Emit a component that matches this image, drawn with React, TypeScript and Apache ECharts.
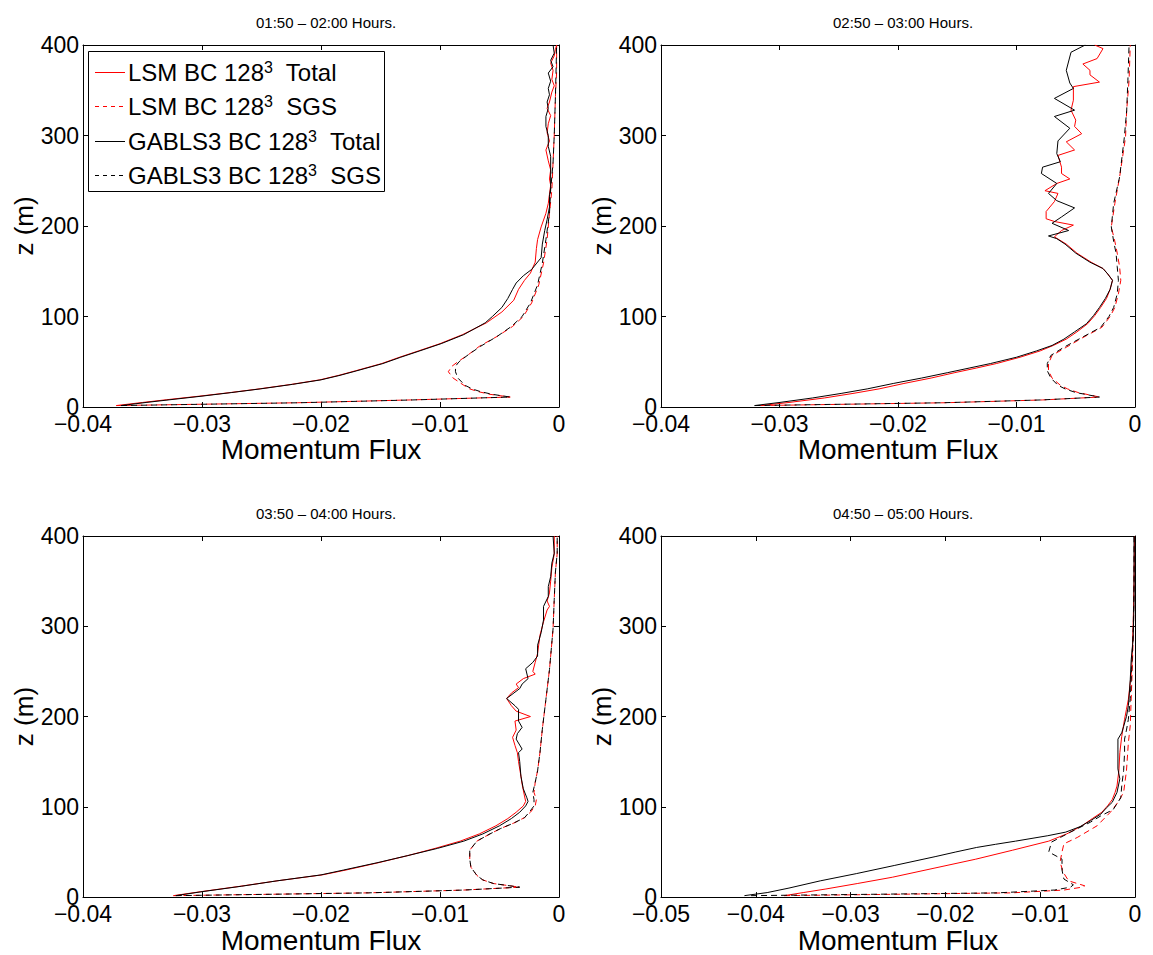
import React, { useEffect, useRef } from "react";
import * as echarts from "echarts";

// ---------- DATA ----------
const PANEL_TITLES = [
  "01:50 – 02:00 Hours.",
  "02:50 – 03:00 Hours.",
  "03:50 – 04:00 Hours.",
  "04:50 – 05:00 Hours.",
];
const X_MIN = [-0.04, -0.04, -0.04, -0.05];
const X_INTERVAL = 0.01;
const Z_MIN = 0;
const Z_MAX = 400;
const Z_INTERVAL = 100;

const SERIES_NAMES = [
  "LSM BC 128^3 Total",
  "LSM BC 128^3 SGS",
  "GABLS3 BC 128^3 Total",
  "GABLS3 BC 128^3 SGS",
];

// each entry: [z (m), momentum flux]
// Panel 1 : 01:50 - 02:00
const P1_LSM_TOTAL = [
  [1.6, -0.0372], [5, -0.035], [8, -0.033], [12, -0.0302], [16, -0.0276], [20, -0.0252],
  [25, -0.0225], [30, -0.0201], [35, -0.0185], [40, -0.0171], [48, -0.0149], [55, -0.0134],
  [62, -0.0118], [70, -0.01], [80, -0.0081], [93, -0.0061], [105, -0.0048], [118, -0.0038],
  [130, -0.0034], [140, -0.0029], [148, -0.0024], [160, -0.002], [175, -0.0019], [185, -0.0018],
  [199, -0.0015], [214, -0.0011], [225, -0.0009], [235, -0.0008], [245, -0.0007], [252, -0.0008],
  [262, -0.0007], [272, -0.0009], [284, -0.0011], [294, -0.0008], [303, -0.001], [313, -0.0009],
  [322, -0.0007], [330, -0.001], [337, -0.0008], [348, -0.0006], [355, -0.0004], [362, -0.0006],
  [372, -0.0005], [380, -0.0007], [388, -0.0004], [395, -0.0003], [400, -0.0002],
];
const P1_LSM_SGS = [
  [1.6, -0.0372], [4.7, -0.022], [7.8, -0.0125], [11, -0.0041], [14, -0.0058], [17, -0.0068],
  [20, -0.0075], [24, -0.008], [32, -0.0089], [39, -0.0093], [45, -0.009], [50, -0.0085],
  [58, -0.0076], [67, -0.0067], [78, -0.0052], [89, -0.0039], [100, -0.003], [115, -0.0023],
  [135, -0.0017], [159, -0.0013], [185, -0.001], [214, -0.0008], [240, -0.0006], [270, -0.0005],
  [300, -0.0004], [343, -0.0003], [370, -0.0002], [400, -0.0002],
];
const P1_GABLS_TOTAL = [
  [1.6, -0.0368], [5, -0.0347], [8, -0.0327], [12, -0.03], [16, -0.0275], [20, -0.0251],
  [25, -0.0224], [30, -0.02], [35, -0.0184], [40, -0.017], [48, -0.0148], [55, -0.0133],
  [62, -0.0117], [70, -0.0099], [80, -0.008], [93, -0.0062], [100, -0.0056], [110, -0.0048],
  [120, -0.0043], [130, -0.0039], [137, -0.0036], [145, -0.003], [152, -0.0023], [165, -0.0015],
  [180, -0.0014], [195, -0.0012], [207, -0.001], [221, -0.0008], [233, -0.0008], [242, -0.0007],
  [252, -0.0007], [262, -0.0007], [277, -0.0007], [288, -0.0009], [300, -0.0009], [310, -0.0011],
  [321, -0.0011], [330, -0.0009], [337, -0.001], [345, -0.0008], [352, -0.0009], [360, -0.0007],
  [369, -0.0009], [376, -0.0005], [383, -0.0007], [391, -0.0004], [400, -0.0005],
];
const P1_GABLS_SGS = [
  [1.6, -0.0368], [4.7, -0.0218], [7.8, -0.0123], [11, -0.0041], [14, -0.0056], [17, -0.0066],
  [20, -0.0073], [24, -0.0079], [32, -0.0085], [39, -0.0087], [45, -0.0087], [50, -0.0084],
  [58, -0.0076], [67, -0.0066], [78, -0.0052], [89, -0.004], [100, -0.0031], [115, -0.0024],
  [135, -0.0018], [159, -0.0014], [185, -0.0011], [214, -0.0008], [240, -0.0007], [270, -0.0005],
  [300, -0.0004], [343, -0.0003], [370, -0.00025], [400, -0.0002],
];

// Panel 2 : 02:50 - 03:00
const P2_LSM_TOTAL = [
  [1.6, -0.0316], [5, -0.0292], [10, -0.0262], [15, -0.0238], [20, -0.0216], [26, -0.0195],
  [32, -0.0172], [38, -0.0152], [43, -0.0134], [48, -0.0117], [55, -0.0097], [62, -0.008],
  [68, -0.0069], [75, -0.0058], [83, -0.0049], [92, -0.004], [101, -0.0034], [110, -0.0029],
  [120, -0.0024], [130, -0.0021], [140, -0.0019], [147, -0.0023], [153, -0.0027], [160, -0.0037],
  [170, -0.0049], [180, -0.0058], [188, -0.0068], [195, -0.0062], [201, -0.0052], [205, -0.0068],
  [208, -0.0075], [216, -0.0075], [227, -0.0068], [236, -0.0065], [239, -0.0076], [247, -0.0066],
  [252, -0.0055], [258, -0.0062], [265, -0.0062], [278, -0.0065], [284, -0.0051], [293, -0.0058],
  [302, -0.0045], [310, -0.0051], [317, -0.005], [328, -0.0054], [339, -0.0052], [354, -0.0052],
  [359, -0.003], [367, -0.0038], [372, -0.0038], [379, -0.0044], [385, -0.0032], [396, -0.0027],
  [400, -0.0034],
];
const P2_LSM_SGS = [
  [1.6, -0.0316], [4.7, -0.016], [7.8, -0.0078], [11, -0.003], [16, -0.0048], [20, -0.0057],
  [24, -0.0063], [32, -0.007], [40, -0.0073], [48, -0.0073], [57, -0.007], [66, -0.0058],
  [76, -0.0045], [88, -0.0028], [100, -0.0021], [110, -0.0017], [125, -0.0014], [140, -0.0012],
  [155, -0.0013], [170, -0.0015], [183, -0.0017], [199, -0.002], [225, -0.0017], [254, -0.0013],
  [298, -0.0008], [328, -0.0007], [361, -0.0005], [400, -0.0004],
];
const P2_GABLS_TOTAL = [
  [1.6, -0.0321], [5, -0.03], [10, -0.0272], [15, -0.0248], [20, -0.0226], [26, -0.0204],
  [32, -0.018], [38, -0.0158], [43, -0.014], [48, -0.0122], [55, -0.01], [62, -0.0083],
  [68, -0.007], [75, -0.006], [83, -0.0051], [92, -0.0041], [101, -0.0035], [110, -0.003],
  [120, -0.0025], [130, -0.0021], [140, -0.0019], [147, -0.0023], [153, -0.0027], [160, -0.0038],
  [170, -0.005], [180, -0.0059], [186, -0.0066], [189, -0.0073], [195, -0.0056], [203, -0.007],
  [210, -0.0062], [220, -0.0051], [228, -0.0066], [236, -0.0073], [247, -0.0066], [258, -0.0079],
  [265, -0.0078], [271, -0.0063], [280, -0.0066], [294, -0.0065], [308, -0.0055], [321, -0.0068],
  [328, -0.0051], [341, -0.0068], [352, -0.0052], [358, -0.0055], [372, -0.0058], [392, -0.0054],
  [400, -0.0042],
];
const P2_GABLS_SGS = [
  [1.6, -0.0321], [4.7, -0.0162], [7.8, -0.0079], [11, -0.003], [16, -0.005], [20, -0.0059],
  [24, -0.0065], [32, -0.0071], [40, -0.0074], [48, -0.0074], [57, -0.0071], [66, -0.006],
  [76, -0.0046], [88, -0.0029], [100, -0.0022], [110, -0.0018], [125, -0.0015], [140, -0.0014],
  [155, -0.0015], [170, -0.0016], [183, -0.0018], [199, -0.002], [225, -0.0018], [254, -0.0013],
  [298, -0.0009], [328, -0.0007], [361, -0.0006], [400, -0.0005],
];

// Panel 3 : 03:50 - 04:00
const P3_LSM_TOTAL = [
  [1.6, -0.0324], [6, -0.0301], [12, -0.0268], [18, -0.0237], [24.6, -0.0199], [30, -0.0179],
  [38, -0.0152], [46, -0.0127], [54, -0.0104], [62, -0.0083], [70, -0.0067], [79, -0.0053],
  [87, -0.0043], [94, -0.0036], [101, -0.003], [106, -0.0028], [112, -0.0029], [125, -0.0031],
  [134, -0.0032], [150, -0.0034], [160, -0.0035], [168, -0.0037], [177, -0.0039], [185, -0.0036],
  [195, -0.0037], [200, -0.0024], [206, -0.0036], [212, -0.004], [220, -0.0044], [226, -0.004],
  [232, -0.0034], [236, -0.0036], [242, -0.003], [247, -0.002], [250, -0.0022], [260, -0.002],
  [270, -0.0018], [280, -0.0017], [290, -0.0016], [305, -0.0013], [318, -0.001], [322, -0.0008],
  [328, -0.001], [337, -0.0008], [350, -0.0007], [365, -0.0006], [380, -0.0004], [400, -0.0004],
];
const P3_LSM_SGS = [
  [1.6, -0.0324], [4.7, -0.016], [7.8, -0.008], [11, -0.0033], [15, -0.0055], [19, -0.0064],
  [24, -0.0069], [33, -0.0074], [42, -0.0075], [52, -0.0075], [62, -0.0069], [70, -0.0058],
  [76, -0.0049], [82, -0.0038], [88, -0.0029], [94, -0.0024], [101, -0.002], [108, -0.0019],
  [116, -0.0021], [127, -0.002], [140, -0.0018], [160, -0.0016], [186, -0.0014], [219, -0.0011],
  [252, -0.0008], [297, -0.0005], [330, -0.0004], [360, -0.0003], [381, -0.00015], [400, -0.00015],
];
const P3_GABLS_TOTAL = [
  [1.6, -0.0322], [6, -0.03], [12, -0.0267], [18, -0.0237], [24.6, -0.02], [30, -0.0181],
  [38, -0.0153], [46, -0.0127], [54, -0.0102], [62, -0.008], [70, -0.0064], [79, -0.005],
  [87, -0.004], [94, -0.0033], [101, -0.0028], [106, -0.0026], [110, -0.0027], [120, -0.003],
  [134, -0.0032], [150, -0.0033], [160, -0.0034], [164, -0.0031], [175, -0.0036], [181, -0.0035],
  [188, -0.0031], [195, -0.0034], [208, -0.0034], [212, -0.0037], [220, -0.0044], [231, -0.0033],
  [236, -0.0031], [242, -0.0026], [253, -0.0028], [260, -0.0022], [267, -0.0018], [279, -0.0018],
  [293, -0.0015], [307, -0.0013], [322, -0.0013], [333, -0.0009], [344, -0.0009], [355, -0.0007],
  [370, -0.0006], [381, -0.0004], [400, -0.0005],
];
const P3_GABLS_SGS = [
  [1.6, -0.0322], [4.7, -0.016], [7.8, -0.008], [11, -0.0033], [15, -0.0055], [19, -0.0064],
  [24, -0.0069], [33, -0.0074], [42, -0.0075], [52, -0.0075], [62, -0.0069], [70, -0.0058],
  [76, -0.0049], [82, -0.0038], [88, -0.0029], [94, -0.0025], [101, -0.0021], [108, -0.0021],
  [116, -0.0022], [127, -0.002], [140, -0.0018], [160, -0.0016], [186, -0.0014], [219, -0.0011],
  [252, -0.0008], [297, -0.0005], [330, -0.0004], [360, -0.0003], [381, -0.00015], [400, -0.00015],
];

// Panel 4 : 04:50 - 05:00
const P4_LSM_TOTAL = [
  [1.6, -0.037], [5, -0.035], [9, -0.0326], [15, -0.0293], [22, -0.0256], [32, -0.0212],
  [42, -0.0168], [52, -0.0129], [62, -0.0091], [70, -0.0072], [79, -0.0056], [87, -0.0045],
  [94, -0.0035], [101, -0.0029], [108, -0.0024], [116, -0.0021], [123, -0.0019], [140, -0.0017],
  [160, -0.0016], [178, -0.0014], [197, -0.0011], [208, -0.0009], [219, -0.0007], [252, -0.00035],
  [307, -0.00018], [350, -0.0001], [400, -0.00005],
];
const P4_LSM_SGS = [
  [1.6, -0.037], [4.7, -0.013], [7.8, -0.0075], [11, -0.0056], [12.5, -0.0053], [18, -0.007],
  [28, -0.0076], [39, -0.0079], [50, -0.0077], [59, -0.0075], [66, -0.0061], [79, -0.004],
  [94, -0.0026], [105, -0.0018], [116, -0.0012], [140, -0.0009], [171, -0.0007], [190, -0.0005],
  [250, -0.0003], [300, -0.00015], [350, -0.0001], [400, -0.00005],
];
const P4_GABLS_TOTAL = [
  [1.6, -0.0412], [5, -0.0388], [10, -0.0365], [18, -0.0332], [26, -0.0294], [35, -0.0254],
  [45, -0.021], [50, -0.0189], [55, -0.0167], [58.5, -0.0147], [62, -0.0126], [68, -0.0092],
  [72, -0.0073], [78, -0.0058], [84.6, -0.0047], [92, -0.0036], [99, -0.003], [105, -0.0024],
  [116, -0.0019], [131, -0.0016], [142, -0.0018], [153, -0.0018], [164, -0.0018], [175, -0.0018],
  [182, -0.0014], [189, -0.0012], [200, -0.0009], [212, -0.0007], [225, -0.0006], [241, -0.0005],
  [263, -0.0004], [285, -0.0002], [326, -0.0001], [400, -0.0001],
];
const P4_GABLS_SGS = [
  [1.6, -0.0405], [4.7, -0.0145], [7.8, -0.0085], [11, -0.0068], [13.6, -0.0065], [20, -0.0075],
  [30, -0.0077], [42, -0.0077], [50, -0.0091], [61, -0.0088], [72, -0.0068], [83, -0.0047],
  [90, -0.0036], [97, -0.0023], [110, -0.0015], [123, -0.0014], [140, -0.0012], [160, -0.0011],
  [175, -0.0011], [185, -0.0009], [197, -0.0007], [220, -0.0005], [252, -0.00035], [300, -0.00018],
  [350, -0.0001], [400, -0.0001],
];

const PANEL_DATA = [
  [P1_LSM_TOTAL, P1_LSM_SGS, P1_GABLS_TOTAL, P1_GABLS_SGS],
  [P2_LSM_TOTAL, P2_LSM_SGS, P2_GABLS_TOTAL, P2_GABLS_SGS],
  [P3_LSM_TOTAL, P3_LSM_SGS, P3_GABLS_TOTAL, P3_GABLS_SGS],
  [P4_LSM_TOTAL, P4_LSM_SGS, P4_GABLS_TOTAL, P4_GABLS_SGS],
];

// ---------- STYLE ----------
const FONT = "'Liberation Sans', Arial, Helvetica, sans-serif";
const SERIES_COLORS = ["#ff0000", "#ff0000", "#000000", "#000000"];
const SERIES_DASH: any[] = ["solid", [6, 4], "solid", [6, 4]];
const LEGEND_DASH: any = [null, [4, 4], null, [4, 4]];
const GRIDS = [
  { left: 83, top: 45, width: 476, height: 362 },
  { left: 661, top: 45, width: 474, height: 362 },
  { left: 83, top: 536, width: 476, height: 362 },
  { left: 661, top: 536, width: 474, height: 362 },
];
const LEGEND_BOX = { x: 88.5, y: 51.5, width: 296, height: 140 };
const LEGEND_ROW0 = 72;
const LEGEND_ROW_STEP = 34.3;

function fmtX(v: number) {
  if (Math.abs(v) < 1e-9) return "0";
  return (v < 0 ? "\u2212" : "") + Math.abs(v).toFixed(2);
}

function legendGraphic() {
  const children: any[] = [
    {
      type: "rect",
      shape: { ...LEGEND_BOX },
      style: { fill: "#fff", stroke: "#000", lineWidth: 1 },
    },
  ];
  SERIES_NAMES.forEach((name, k) => {
    const y = Math.round(LEGEND_ROW0 + k * LEGEND_ROW_STEP) + 0.5;
    const [a, b] = name.split("^3");
    children.push({
      type: "line",
      shape: { x1: 95, y1: y, x2: 125, y2: y },
      style: { stroke: SERIES_COLORS[k], lineWidth: 1, lineDash: LEGEND_DASH[k] },
    });
    children.push({
      type: "text",
      x: 128,
      y: y,
      style: {
        text: a + "{sup|3}  " + b.trim(),
        fill: "#000",
        font: `24px ${FONT}`,
        fontSize: 24,
        fontFamily: FONT,
        lineHeight: 27,
        verticalAlign: "middle",
        align: "left",
        rich: {
          sup: { fontSize: 16, lineHeight: 16, verticalAlign: "top", fill: "#000", fontFamily: FONT },
        },
      },
    });
  });
  return [{ type: "group", z: 100, children }];
}

function buildOption() {
  const xAxis: any[] = [];
  const yAxis: any[] = [];
  const series: any[] = [];
  const title: any[] = [];
  GRIDS.forEach((g, i) => {
    const tick = { show: true, inside: true, length: 5, lineStyle: { color: "#000", width: 1 } };
    const line = { show: true, onZero: false, lineStyle: { color: "#000", width: 1 } };
    xAxis.push({
      gridIndex: i, type: "value", position: "bottom", min: X_MIN[i], max: 0, interval: X_INTERVAL,
      axisLine: line, axisTick: tick, splitLine: { show: false },
      axisLabel: { formatter: fmtX, fontSize: 23, color: "#000", fontFamily: FONT, margin: 5 },
      name: "Momentum Flux", nameLocation: "middle", nameGap: 28,
      nameTextStyle: { fontSize: 28, color: "#000", fontFamily: FONT, verticalAlign: "top" },
    });
    xAxis.push({
      gridIndex: i, type: "value", position: "top", min: X_MIN[i], max: 0, interval: X_INTERVAL,
      axisLine: line, axisTick: tick, splitLine: { show: false }, axisLabel: { show: false },
    });
    yAxis.push({
      gridIndex: i, type: "value", position: "left", min: Z_MIN, max: Z_MAX, interval: Z_INTERVAL,
      axisLine: line, axisTick: tick, splitLine: { show: false },
      axisLabel: { fontSize: 23, color: "#000", fontFamily: FONT, margin: 4 },
      name: "z (m)", nameLocation: "middle", nameGap: 44,
      nameTextStyle: { fontSize: 26, color: "#000", fontFamily: FONT },
    });
    yAxis.push({
      gridIndex: i, type: "value", position: "right", min: Z_MIN, max: Z_MAX, interval: Z_INTERVAL,
      axisLine: line, axisTick: tick, splitLine: { show: false }, axisLabel: { show: false },
    });
    title.push({
      text: PANEL_TITLES[i], left: g.left + g.width / 2, top: g.top - 35, textAlign: "center",
      textStyle: { fontSize: 15, fontWeight: "normal", color: "#000", fontFamily: FONT },
    });
    PANEL_DATA[i].forEach((d, k) => {
      series.push({
        name: SERIES_NAMES[k], type: "line", xAxisIndex: 2 * i, yAxisIndex: 2 * i,
        data: d.map(([z, v]) => [v, z]), symbol: "none", showSymbol: false, silent: true,
        lineStyle: { color: SERIES_COLORS[k], width: 1, type: SERIES_DASH[k] },
        itemStyle: { color: SERIES_COLORS[k] },
      });
    });
  });
  return {
    animation: false,
    backgroundColor: "#fff",
    title,
    grid: GRIDS.map((g) => ({ ...g, containLabel: false })),
    xAxis, yAxis, series,
    graphic: legendGraphic(),
  };
}

export default function App() {
  const ref = useRef<HTMLDivElement>(null);
  useEffect(() => {
    if (!ref.current) return;
    const chart = echarts.init(ref.current, undefined, { renderer: "svg" });
    chart.setOption(buildOption() as any);
    return () => chart.dispose();
  }, []);
  return (
    <div
      ref={ref}
      style={{ position: "absolute", left: 0, top: 0, width: 1153, height: 955, background: "#fff" }}
    />
  );
}
